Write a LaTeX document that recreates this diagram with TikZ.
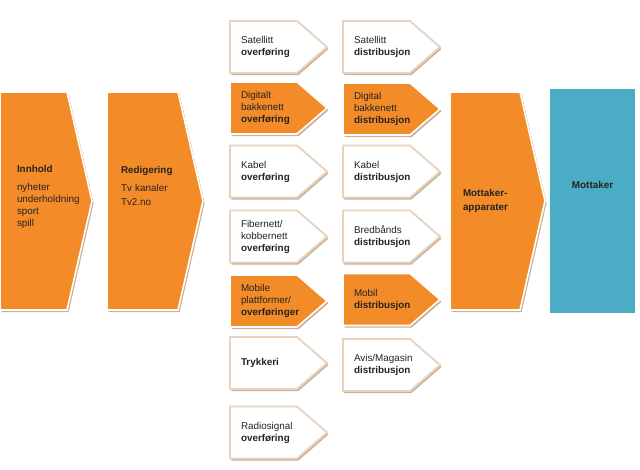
\documentclass[tikz,border=0pt]{standalone}
\usepackage{fontspec}
\setmainfont{Liberation Sans}
\usepackage{xcolor}
\usepackage{tikz}
\usetikzlibrary{backgrounds,shadows}
\definecolor{chevorange}{RGB}{243,140,40}
\definecolor{chevblue}{RGB}{75,172,198}
\definecolor{chevborder}{RGB}{230,211,192}
\definecolor{chevshadow}{RGB}{203,176,150}
\definecolor{textdark}{RGB}{35,35,35}
\tikzset{
  base-chev/.style={rectangle, anchor=north west, align=left, outer sep=0pt,
    inner ysep=0pt, font=\fontsize{7.4}{9}\selectfont, text=textdark},
  small-chev/.style={base-chev, minimum width=72.75pt, minimum height=39pt,
    inner xsep=8.25pt, text width=56.25pt},
  big-chev/.style={base-chev, minimum height=163.5pt},
  orange-shape/.style={fill=chevorange, draw=white, line width=1.2pt,
    drop shadow={shadow xshift=1.2pt, shadow yshift=-1.6pt, fill=chevshadow, opacity=1}},
  white-shape/.style={fill=white, draw=chevborder, line width=1.4pt,
    drop shadow={shadow xshift=1pt, shadow yshift=-1.6pt, fill=chevshadow, opacity=1}}
}
\begin{document}
\begin{tikzpicture}[x=0.75pt, y=-0.75pt]
\useasboundingbox (0,0) rectangle (640,469);
% big steps
\node[big-chev, minimum width=69pt, inner xsep=12.75pt, text width=43.5pt, text depth=48pt]
  (innhold) at (0,92) {\textbf{Innhold}\\[4.5pt]nyheter\\underholdning\\sport\\spill};
\node[big-chev, minimum width=72pt, inner xsep=10.5pt, text width=51pt, text depth=47pt]
  (rediger) at (107,92) {\textbf{Redigering}\\[4.5pt]Tv kanaler\\[1.5pt]Tv2.no};
\node[big-chev, minimum width=71.25pt, inner xsep=9.75pt, text width=51.75pt]
  (apparat) at (450,92) {\textbf{Mottaker-}\\[1.5pt]\textbf{apparater}};
\node[base-chev, fill=chevblue, minimum width=63.75pt, minimum height=168pt,
  inner xsep=6.9pt, text width=50pt, align=center, text depth=24pt]
  (mottaker) at (550,89) {\textbf{Mottaker}};
% overforing column
\node[small-chev] (sat-ovf) at (230,21) {Satellitt\\\textbf{overføring}};
\node[small-chev] (dig-ovf) at (230,82) {Digitalt\\bakkenett\\\textbf{overføring}};
\node[small-chev] (kab-ovf) at (230,145.5) {Kabel\\\textbf{overføring}};
\node[small-chev] (fib-ovf) at (230,210.5) {Fibernett/\\kobbernett\\\textbf{overføring}};
\node[small-chev] (mob-ovf) at (230,275) {Mobile\\plattformer/\\\textbf{overføringer}};
\node[small-chev] (trykk) at (230,337) {\textbf{Trykkeri}};
\node[small-chev] (radio) at (230,406.5) {Radiosignal\\\textbf{overføring}};
% distribusjon column
\node[small-chev] (sat-dist) at (343,21) {Satellitt\\\textbf{distribusjon}};
\node[small-chev] (dig-dist) at (343,83) {Digital\\bakkenett\\\textbf{distribusjon}};
\node[small-chev] (kab-dist) at (343,145.5) {Kabel\\\textbf{distribusjon}};
\node[small-chev] (bred-dist) at (343,210.5) {Bredbånds\\\textbf{distribusjon}};
\node[small-chev] (mob-dist) at (343,273.5) {Mobil\\\textbf{distribusjon}};
\node[small-chev] (avis-dist) at (343,339) {Avis/Magasin\\\textbf{distribusjon}};
% chevron outlines behind the texts
\begin{scope}[on background layer]
\foreach \n/\d in {innhold/18.75pt,rediger/18.75pt,apparat/18.75pt,dig-ovf/22.5pt,mob-ovf/22.5pt,dig-dist/22.5pt,mob-dist/22.5pt}
  \draw[orange-shape] (\n.north west) -- ([xshift=-\d]\n.north east) -- (\n.east)
    -- ([xshift=-\d]\n.south east) -- (\n.south west) -- cycle;
\foreach \n in {sat-ovf,kab-ovf,fib-ovf,trykk,radio,sat-dist,kab-dist,bred-dist,avis-dist}
  \draw[white-shape] (\n.north west) -- ([xshift=-22.5pt]\n.north east) -- (\n.east)
    -- ([xshift=-22.5pt]\n.south east) -- (\n.south west) -- cycle;
\end{scope}
\end{tikzpicture}
\end{document}
